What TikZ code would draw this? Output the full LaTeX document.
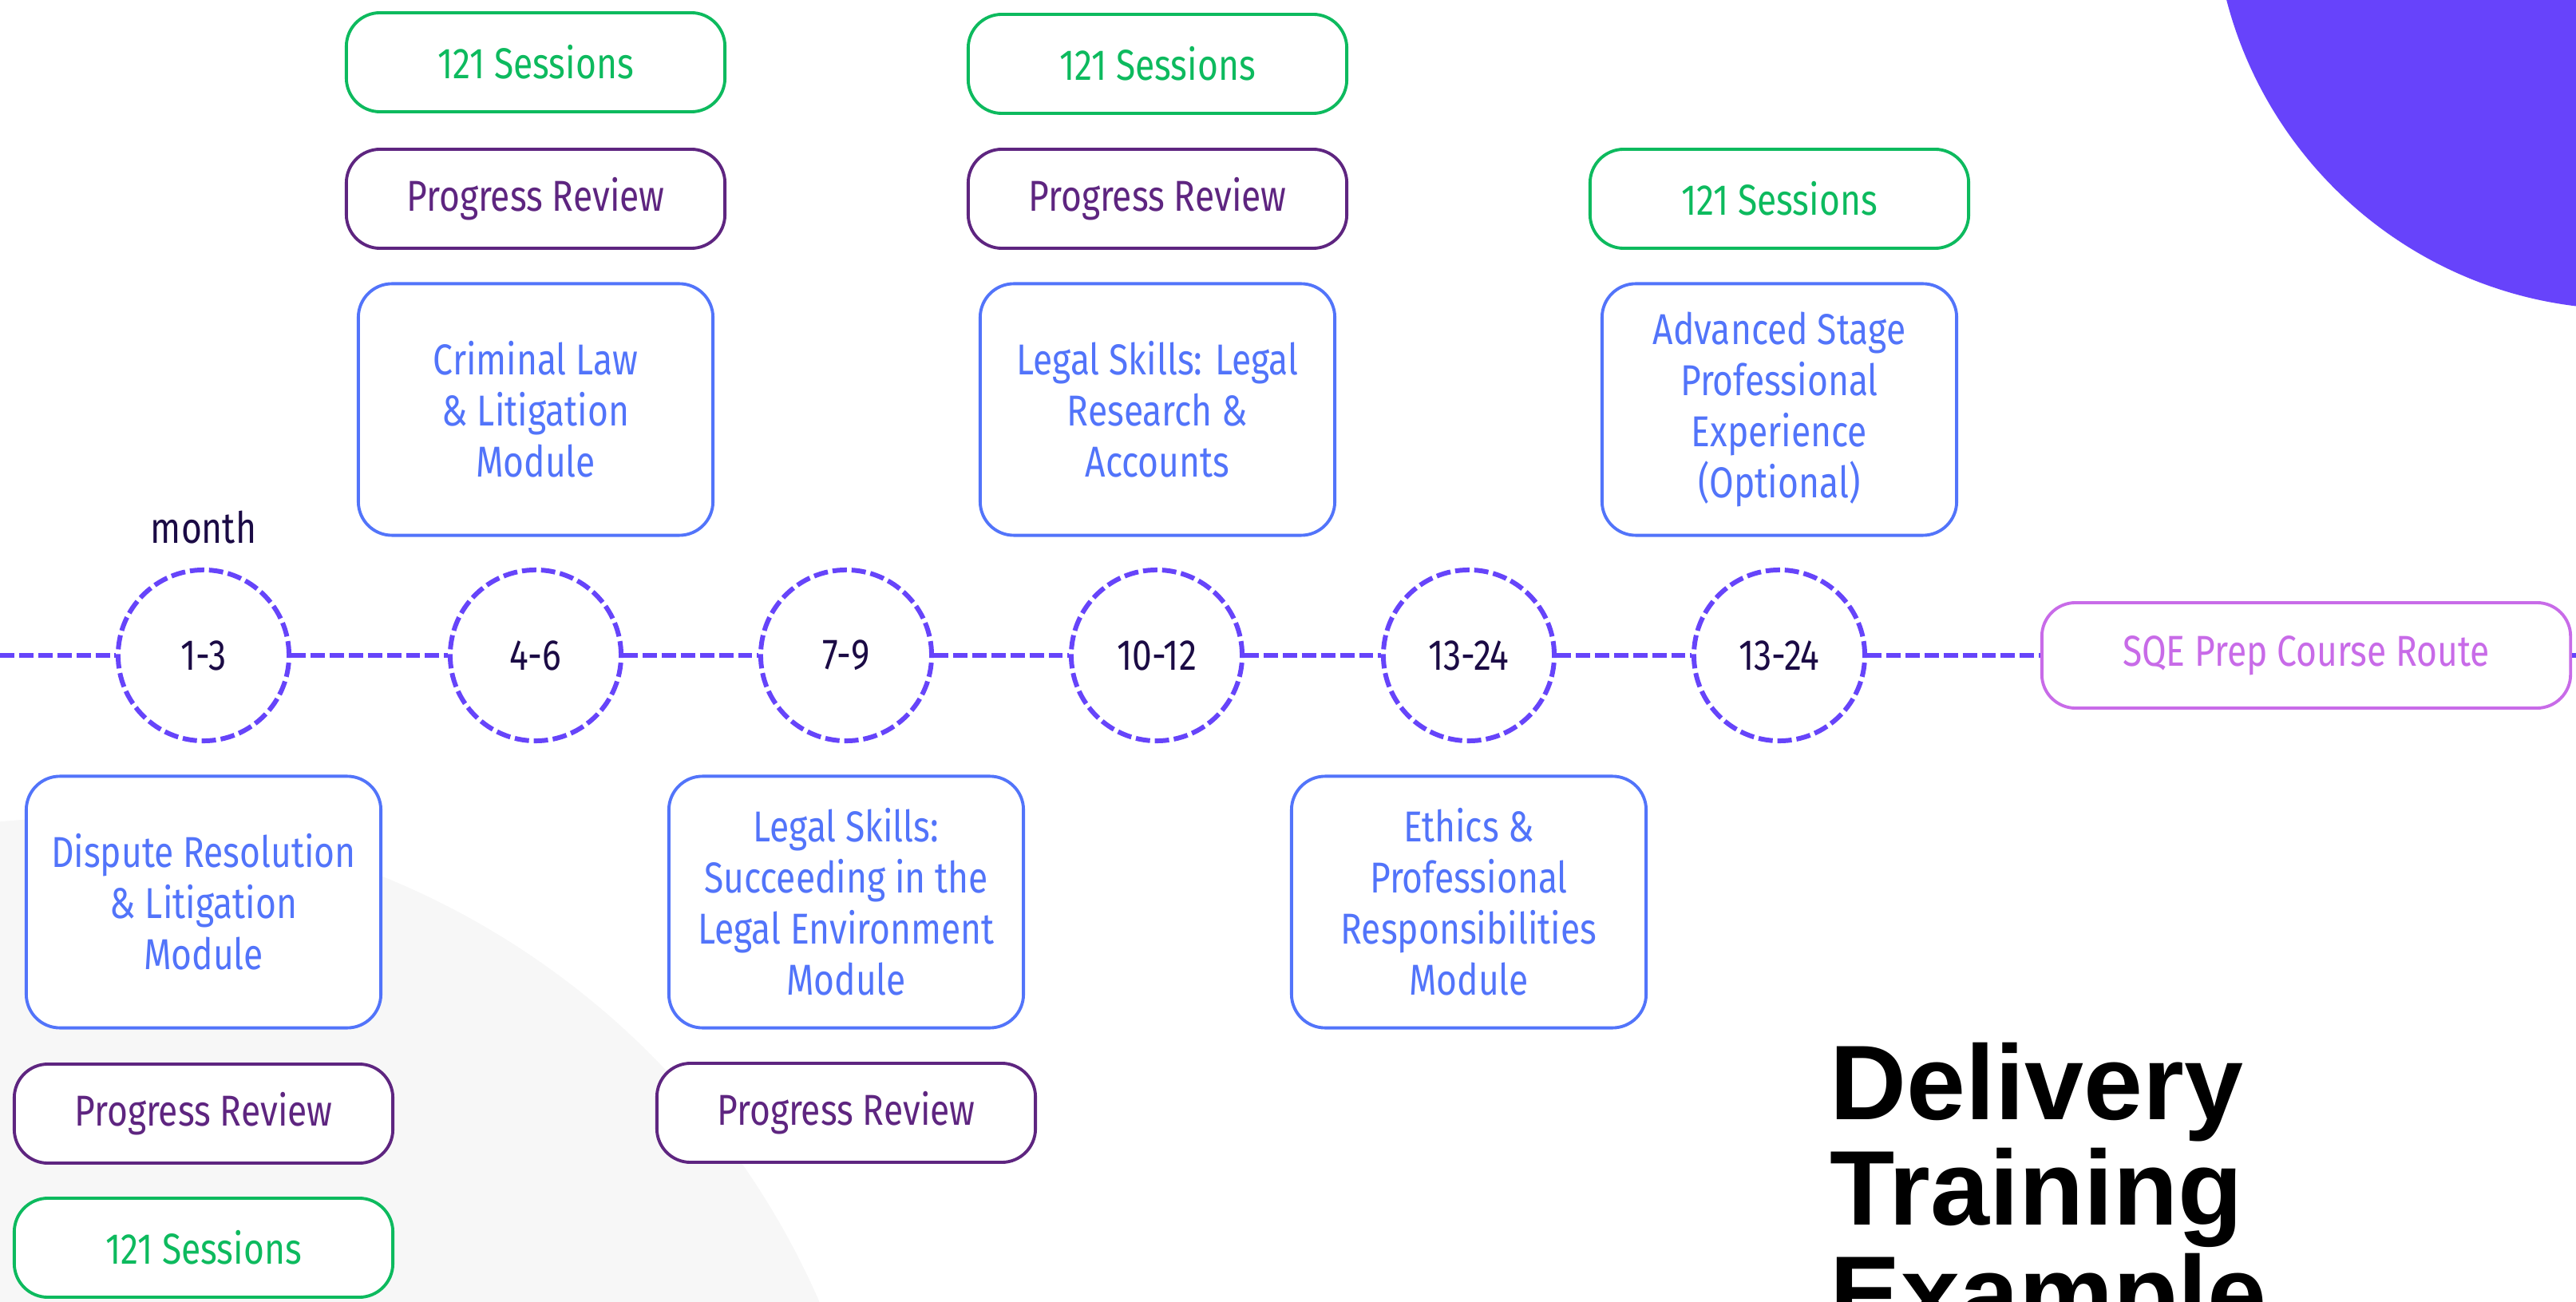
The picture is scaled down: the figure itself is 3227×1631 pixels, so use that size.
\documentclass[tikz,border=0pt]{standalone}
\usepackage{fontspec}
\setmainfont{Fira Sans}[FakeStretch=0.82]
\newfontfamily\titlefont{Liberation Sans}
\definecolor{cgreen}{HTML}{0DBA5E}
\definecolor{cpurple}{HTML}{5E2580}
\definecolor{cblue}{HTML}{5274FA}
\definecolor{cpink}{HTML}{C86BE8}
\definecolor{ctl}{HTML}{6644FA}
\definecolor{cblob}{HTML}{6743FB}
\definecolor{cdark}{HTML}{1B0B45}
\definecolor{cbg}{HTML}{F7F7F7}
\newcommand{\bodyfont}{\fontsize{15.4pt}{18.2pt}\selectfont}
\begin{document}
\begin{tikzpicture}[x=0.01cm,y=-0.01cm,
  box/.style={draw, fill=white, rounded corners=12pt, line width=1.1pt, align=center, inner sep=0pt, font=\bodyfont},
  greenbox/.style={box, draw=cgreen, text=cgreen, minimum width=4.74cm, minimum height=1.24cm},
  reviewbox/.style={box, draw=cpurple, text=cpurple, minimum width=4.74cm, minimum height=1.24cm},
  modbox/.style={box, draw=cblue, text=cblue, minimum width=4.44cm, minimum height=3.15cm},
  sqebox/.style={box, draw=cpink, text=cpink, minimum width=6.62cm, minimum height=1.32cm},
  mcirc/.style={circle, draw=ctl, fill=white, line width=1.7pt, dash pattern=on 5.1pt off 1.7pt, minimum size=2.14cm, inner sep=0pt, text=cdark, font=\bodyfont},
  tl/.style={draw=ctl, line width=1.7pt, dash pattern=on 5.1pt off 1.7pt},
  titletext/.style={anchor=base west, inner sep=0pt, font=\titlefont\bfseries\fontsize{37.8pt}{38pt}\selectfont}
]
\useasboundingbox (0,0) rectangle (3227,1631);
\clip (0,0) rectangle (3227,1631);
% background shapes
\fill[cbg] (100,2035) circle (10.1cm);
\fill[cblob] (3290,-130) circle (5.17cm);
% timeline nodes
\coordinate (lstart) at (0,821);
\coordinate (rend) at (3240,821);
\node[mcirc] (c1) at (255,821) {1-3};
\node[mcirc] (c2) at (671,821) {4-6};
\node[mcirc] (c3) at (1060,821) {7-9};
\node[mcirc] (c4) at (1449,821) {10-12};
\node[mcirc] (c5) at (1840,821) {13-24};
\node[mcirc] (c6) at (2229,821) {13-24};
\node[sqebox] (sqe) at (2889,821) {SQE Prep Course Route};
\draw[tl] (lstart) -- (c1.west);
\draw[tl] (c1) -- (c2);
\draw[tl] (c2) -- (c3);
\draw[tl] (c3) -- (c4);
\draw[tl] (c4) -- (c5);
\draw[tl] (c5) -- (c6);
\draw[tl] (c6) -- (sqe);
\draw[tl] (sqe) -- (rend);
\node[anchor=base, inner sep=0pt, text=cdark, font=\bodyfont] (month) at (255,681) {month};
% top boxes
\node[greenbox] (g1) at (671,78) {121 Sessions};
\node[greenbox] (g2) at (1450,80) {121 Sessions};
\node[greenbox] (g3) at (2229,249) {121 Sessions};
\node[reviewbox] (r1) at (671,249) {Progress Review};
\node[reviewbox] (r2) at (1450,249) {Progress Review};
\node[modbox] (m1) at (671,513) {Criminal Law\\\& Litigation\\Module};
\node[modbox] (m2) at (1450,513) {Legal Skills: Legal\\Research \&\\Accounts};
\node[modbox] (m3) at (2229,513) {Advanced Stage\\Professional\\Experience\\(Optional)};
% bottom boxes
\node[modbox] (m4) at (255,1130) {Dispute Resolution\\\& Litigation\\Module};
\node[modbox] (m5) at (1060,1130) {Legal Skills:\\Succeeding in the\\Legal Environment\\Module};
\node[modbox] (m6) at (1840,1130) {Ethics \&\\Professional\\Responsibilities\\Module};
\node[reviewbox] (r3) at (255,1395) {Progress Review};
\node[reviewbox] (r4) at (1060,1394) {Progress Review};
\node[greenbox] (g4) at (255,1563) {121 Sessions};
% title
\node[titletext] (t1) at (2292,1402) {Delivery};
\node[titletext] (t2) at (2292,1534) {Training};
\node[titletext] (t3) at (2292,1666) {Example};
\end{tikzpicture}
\end{document}
